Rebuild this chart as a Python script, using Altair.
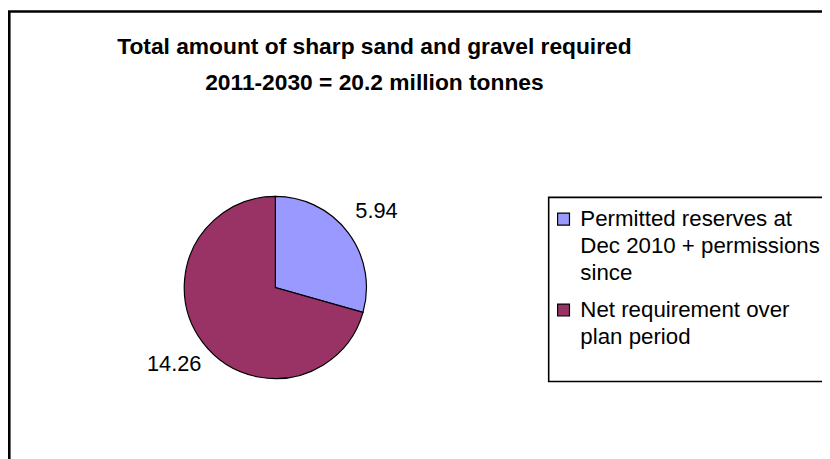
import altair as alt
import pandas as pd

# ---- data ----
title_lines = ["Total amount of sharp sand and gravel required",
               "2011-2030 = 20.2 million tonnes"]
categories = ["Permitted reserves at Dec 2010 + permissions since",
              "Net requirement over plan period"]
values = [5.94, 14.26]
legend_lines = [["Permitted reserves at", "Dec 2010 + permissions", "since"],
                ["Net requirement over", "plan period"]]
colors = ["#9999FF", "#993366"]

FONT = "Liberation Sans"
W, H = 822, 451
CX, CY, R = 270, 280, 92

pie_df = pd.DataFrame({"category": categories, "value": values,
                       "idx": list(range(len(values)))})

# legend rows (one per text line); entry gap adds extra spacing
rows = []
slot = 0.0
for i, lines in enumerate(legend_lines):
    for j, ln in enumerate(lines):
        rows.append({"category": categories[i], "line": ln, "pos": slot,
                     "first": j == 0})
        slot += 1
    slot += 0.4
leg_df = pd.DataFrame(rows)
max_pos = leg_df["pos"].max()
LINE_H = 27
Y0 = 211
y_scale = alt.Scale(domain=[0, max_pos], range=[Y0, Y0 + LINE_H * max_pos])

color_scale = alt.Scale(domain=categories, range=colors)

base_empty = alt.Chart(pd.DataFrame({"a": [0]}))

border = base_empty.mark_rect(fill=None, stroke="black", strokeWidth=2.6).encode(
    x=alt.value(1.3), y=alt.value(1.3), x2=alt.value(W + 20), y2=alt.value(H + 20))

title = base_empty.mark_text(
    font=FONT, fontSize=23, fontWeight="bold", align="center",
    baseline="alphabetic", lineHeight=37, color="black"
).encode(x=alt.value(370), y=alt.value(44), text=alt.value(title_lines))

pie = alt.Chart(pie_df).mark_arc(
    outerRadius=R, stroke="black", strokeWidth=1.2
).encode(
    theta=alt.Theta("value:Q", stack=True),
    color=alt.Color("category:N", scale=color_scale, legend=None),
    order=alt.Order("idx:Q"),
    x=alt.value(CX), y=alt.value(CY),
)

labels = alt.Chart(pie_df).mark_text(
    radius=128, font=FONT, fontSize=22, color="black",
    align="center", baseline="middle"
).encode(
    theta=alt.Theta("value:Q", stack=True),
    order=alt.Order("idx:Q"),
    text=alt.Text("value:Q", format=".2f"),
    x=alt.value(CX), y=alt.value(CY),
)

legend_box = base_empty.mark_rect(fill="white", stroke="black", strokeWidth=1.6).encode(
    x=alt.value(546), y=alt.value(189), x2=alt.value(W + 20), y2=alt.value(375))

legend_sym = alt.Chart(leg_df).transform_filter("datum.first").mark_square(
    size=144, filled=True, stroke="black", strokeWidth=1.2, opacity=1
).encode(
    x=alt.value(561),
    y=alt.Y("pos:Q", scale=y_scale, axis=None),
    fill=alt.Fill("category:N", scale=color_scale, legend=None),
)

legend_text = alt.Chart(leg_df).mark_text(
    font=FONT, fontSize=22.5, color="black", align="left", baseline="middle"
).encode(
    x=alt.value(578),
    y=alt.Y("pos:Q", scale=y_scale, axis=None),
    text="line:N",
)

chart = alt.layer(border, title, pie, labels, legend_box, legend_sym, legend_text).properties(
    width=W, height=H, autosize=alt.AutoSizeParams(type="none"),
    padding=0, background="white"
).configure_view(stroke=None)

chart.save("out.html", embed_options={"renderer": "svg", "actions": False})
